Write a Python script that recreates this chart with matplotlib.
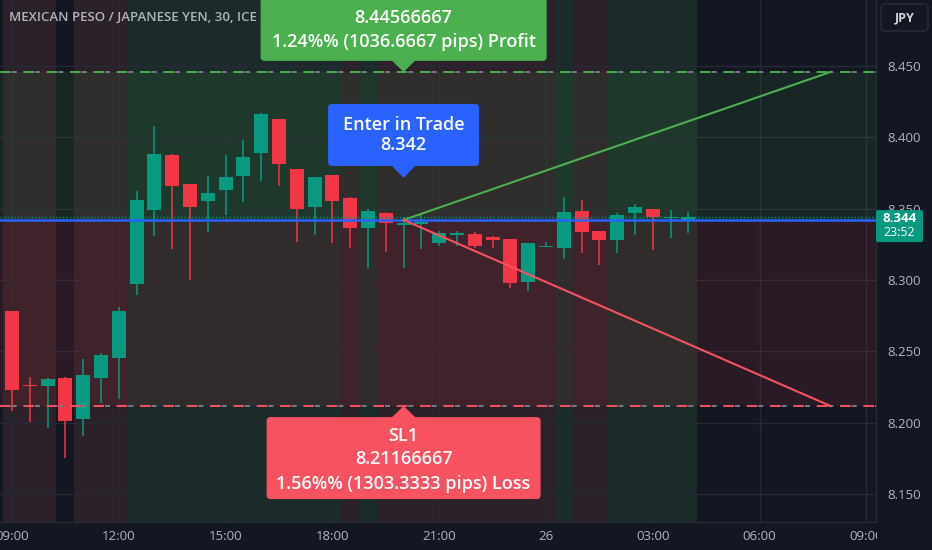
import numpy as np
import matplotlib
matplotlib.use("Agg")
import matplotlib.pyplot as plt
from matplotlib.patches import Rectangle, FancyBboxPatch, Polygon

plt.rcParams['font.family'] = ['Open Sans', 'DejaVu Sans']
plt.rcParams['lines.scale_dashes'] = False

# MXN/JPY 30 min bars, bar 0 = 09:00
opens = [8.2784, 8.2260, 8.2257, 8.2311, 8.2024, 8.2315, 8.2451, 8.2973, 8.3489, 8.3873,
         8.3670, 8.3555, 8.3628, 8.3730, 8.3891, 8.4125, 8.3777, 8.3513, 8.3735, 8.3576,
         8.3366, 8.3466, 8.3384, 8.3394, 8.3261, 8.3312, 8.3321, 8.3302, 8.3284, 8.2988,
         8.3232, 8.3221, 8.3483, 8.3343, 8.3280, 8.3466, 8.3494, 8.3435, 8.3415]
highs = [8.2784, 8.2322, 8.2313, 8.2322, 8.2444, 8.2488, 8.2808, 8.3625, 8.4078, 8.3882,
         8.3670, 8.3728, 8.3875, 8.3980, 8.4171, 8.4125, 8.3780, 8.3718, 8.3735, 8.3583,
         8.3494, 8.3478, 8.3438, 8.3462, 8.3345, 8.3343, 8.3338, 8.3307, 8.3284, 8.3256,
         8.3263, 8.3583, 8.3560, 8.3343, 8.3466, 8.3532, 8.3494, 8.3489, 8.3473]
lows = [8.2084, 8.2007, 8.1963, 8.1750, 8.1909, 8.2140, 8.2164, 8.2896, 8.3307, 8.3214,
        8.2997, 8.3338, 8.3454, 8.3548, 8.3695, 8.3658, 8.3268, 8.3314, 8.3256, 8.3226,
        8.3086, 8.3198, 8.3086, 8.3214, 8.3237, 8.3237, 8.3226, 8.3226, 8.2945, 8.2924,
        8.3228, 8.3146, 8.3186, 8.3104, 8.3186, 8.3314, 8.3209, 8.3291, 8.3326]
closes = [8.2228, 8.2254, 8.2306, 8.2010, 8.2334, 8.2472, 8.2784, 8.3560, 8.3882, 8.3658,
          8.3511, 8.3611, 8.3718, 8.3863, 8.4162, 8.3810, 8.3494, 8.3718, 8.3555, 8.3361,
          8.3483, 8.3396, 8.3401, 8.3404, 8.3331, 8.3331, 8.3237, 8.3279, 8.2976, 8.3256,
          8.3236, 8.3473, 8.3338, 8.3280, 8.3452, 8.3508, 8.3443, 8.3438, 8.3443]

x_ticks = [0, 6, 12, 18, 24, 30, 36, 42, 48]
x_labels = ["09:00", "12:00", "15:00", "18:00", "21:00", "26", "03:00", "06:00", "09:00"]
price_ticks = [8.15, 8.20, 8.25, 8.30, 8.35, 8.40, 8.45]

# background session bands
band_edges = [-0.5, 2.5, 3.5, 6.5, 18.5, 19.5, 20.5, 30.5, 31.5, 33.5, 38.5]
band_kind = ['r', None, 'r', 'g', 'r', 'g', 'r', 'g', 'r', 'g']

entry = 8.342
tp = 8.44566667
sl = 8.21166667
last_price = 8.344
trade_start, trade_end = 22, 46

BG = '#131722'
UP = '#089981'
DOWN = '#f23645'
TXT = '#b2b5be'

fig = plt.figure(figsize=(9.32, 5.5), dpi=100, facecolor=BG)
ax = fig.add_axes([0, 28 / 550, 876 / 932, 522 / 550])
ax.set_facecolor(BG)
ax.set_xlim(-0.674, 48.54)
ax.set_ylim(8.1305, 8.4960)

for a, b, k in zip(band_edges[:-1], band_edges[1:], band_kind):
    if k == 'r':
        ax.axvspan(a, b, color='#2c2029', lw=0, zorder=0)
    elif k == 'g':
        ax.axvspan(a, b, color='#1b2b29', lw=0, zorder=0)

ax.axhspan(entry, tp, color='#4caf50', alpha=0.1, lw=0, zorder=1)
ax.axhspan(sl, entry, color='#f23645', alpha=0.1, lw=0, zorder=1)

ax.set_axisbelow(True)
ax.grid(True, color='#262a35', lw=1)

# candles
for i, (o, h, l, c) in enumerate(zip(opens, highs, lows, closes)):
    col = UP if c >= o else DOWN
    ax.vlines(i, l, h, color=col, lw=1.1, zorder=3)
    body = max(abs(c - o), 0.0008)
    ax.bar(i, body, bottom=min(o, c), width=0.78, color=col, zorder=3)

# trade lines
ax.axhline(entry, color='#2962ff', lw=1.8, zorder=4)
ax.axhline(last_price, color=UP, lw=1, ls=(0, (1, 1.5)), zorder=4)
for lvl, col in [(tp, '#4caf50'), (sl, '#f7525f')]:
    ax.axhline(lvl, color='#787b86', lw=1.4, ls=(8.4, (3.6, 13.2)), zorder=4)
    ax.axhline(lvl, color=col, lw=1.4, ls=(0, (7.7, 9.1)), zorder=4)
ax.plot([trade_start, trade_end], [entry, tp], color='#4caf50', lw=1.5, zorder=5)
ax.plot([trade_start, trade_end], [entry, sl], color='#f7525f', lw=1.5, zorder=5)

for s in ['top', 'left']:
    ax.spines[s].set_visible(False)
for s in ['bottom', 'right']:
    ax.spines[s].set_color('#2a2e39')

ax.yaxis.tick_right()
ax.set_yticks(price_ticks)
ax.set_yticklabels([f"{p:.3f}" for p in price_ticks])
ax.set_xticks(x_ticks)
ax.set_xticklabels(x_labels)
ax.tick_params(axis='y', length=0, pad=8, labelcolor=TXT, labelsize=9.5)
ax.tick_params(axis='x', length=0, pad=6, labelcolor=TXT, labelsize=9.5)

# overlay in pixel units
ov = fig.add_axes([0, 0, 1, 1])
ov.set_xlim(0, 932)
ov.set_ylim(0, 550)
ov.axis('off')
ov.patch.set_alpha(0)


def px(x, y):
    return ax.transData.transform((x, y))


def label_box(cx, tip_y, w, h, gap, color, lines, up=True, offsets=()):
    # up=True: box above the tip
    if up:
        y0 = tip_y + gap
        tri = [(cx - 12, y0 + 0.5), (cx + 12, y0 + 0.5), (cx, tip_y)]
    else:
        y0 = tip_y - gap - h
        tri = [(cx - 12, y0 + h - 0.5), (cx + 12, y0 + h - 0.5), (cx, tip_y)]
    ov.add_patch(FancyBboxPatch((cx - w / 2, y0), w, h,
                                boxstyle="round,pad=0,rounding_size=4",
                                fc=color, ec='none', zorder=10))
    ov.add_patch(Polygon(tri, closed=True, fc=color, ec='none', zorder=10))
    for t, off in zip(lines, offsets):
        yy = y0 + off if up else y0 + h - off
        ov.text(cx, yy, t, color='white', fontsize=13, weight='semibold',
                ha='center', va='center', zorder=11)


cx = px(trade_start, entry)[0]
tp_y = px(0, tp)[1]
sl_y = px(0, sl)[1]
en_y = px(0, entry)[1]

label_box(cx, tp_y, 286, 90, 11, '#4caf50',
          ["TP1", "8.44566667", "1.24%% (1036.6667 pips) Profit"], up=True,
          offsets=(66, 43, 19))
label_box(cx, en_y + 42, 151, 62, 12, '#2962ff',
          ["Enter in Trade", "8.342"], up=True, offsets=(41, 21))
label_box(cx, sl_y, 274, 82, 11, '#f7525f',
          ["SL1", "8.21166667", "1.56%% (1303.3333 pips) Loss"], up=False,
          offsets=(19, 42, 67))

# title
ov.text(9, 550 - 17, "MEXICAN PESO / JAPANESE YEN, 30, ICE", color=TXT, fontsize=9.5,
        weight='semibold', ha='left', va='center', zorder=12)

# currency button
ov.add_patch(FancyBboxPatch((881, 550 - 31), 47, 27, boxstyle="round,pad=0,rounding_size=4",
                            fc=BG, ec='#2a2e39', lw=1, zorder=10))
ov.text(904.5, 550 - 17.5, "JPY", color='#d1d4dc', fontsize=9, weight='bold',
        ha='center', va='center', zorder=11)

# last price tag
lp_y = px(0, last_price)[1]
ov.add_patch(FancyBboxPatch((876, lp_y - 25), 47, 32, boxstyle="round,pad=0,rounding_size=2",
                            fc=UP, ec='none', zorder=10))
ov.text(899.5, lp_y - 1, f"{last_price:.3f}", color='white', fontsize=9.5, weight='bold',
        ha='center', va='center', zorder=11)
ov.text(899.5, lp_y - 15, "23:52", color='white', fontsize=9, ha='center', va='center', zorder=11)

# cut the last time label at the price scale edge
ov.add_patch(Rectangle((876.5, 0), 60, 27.5, fc=BG, ec='none', zorder=9))

fig.savefig("out.png", dpi=100, facecolor=BG)
